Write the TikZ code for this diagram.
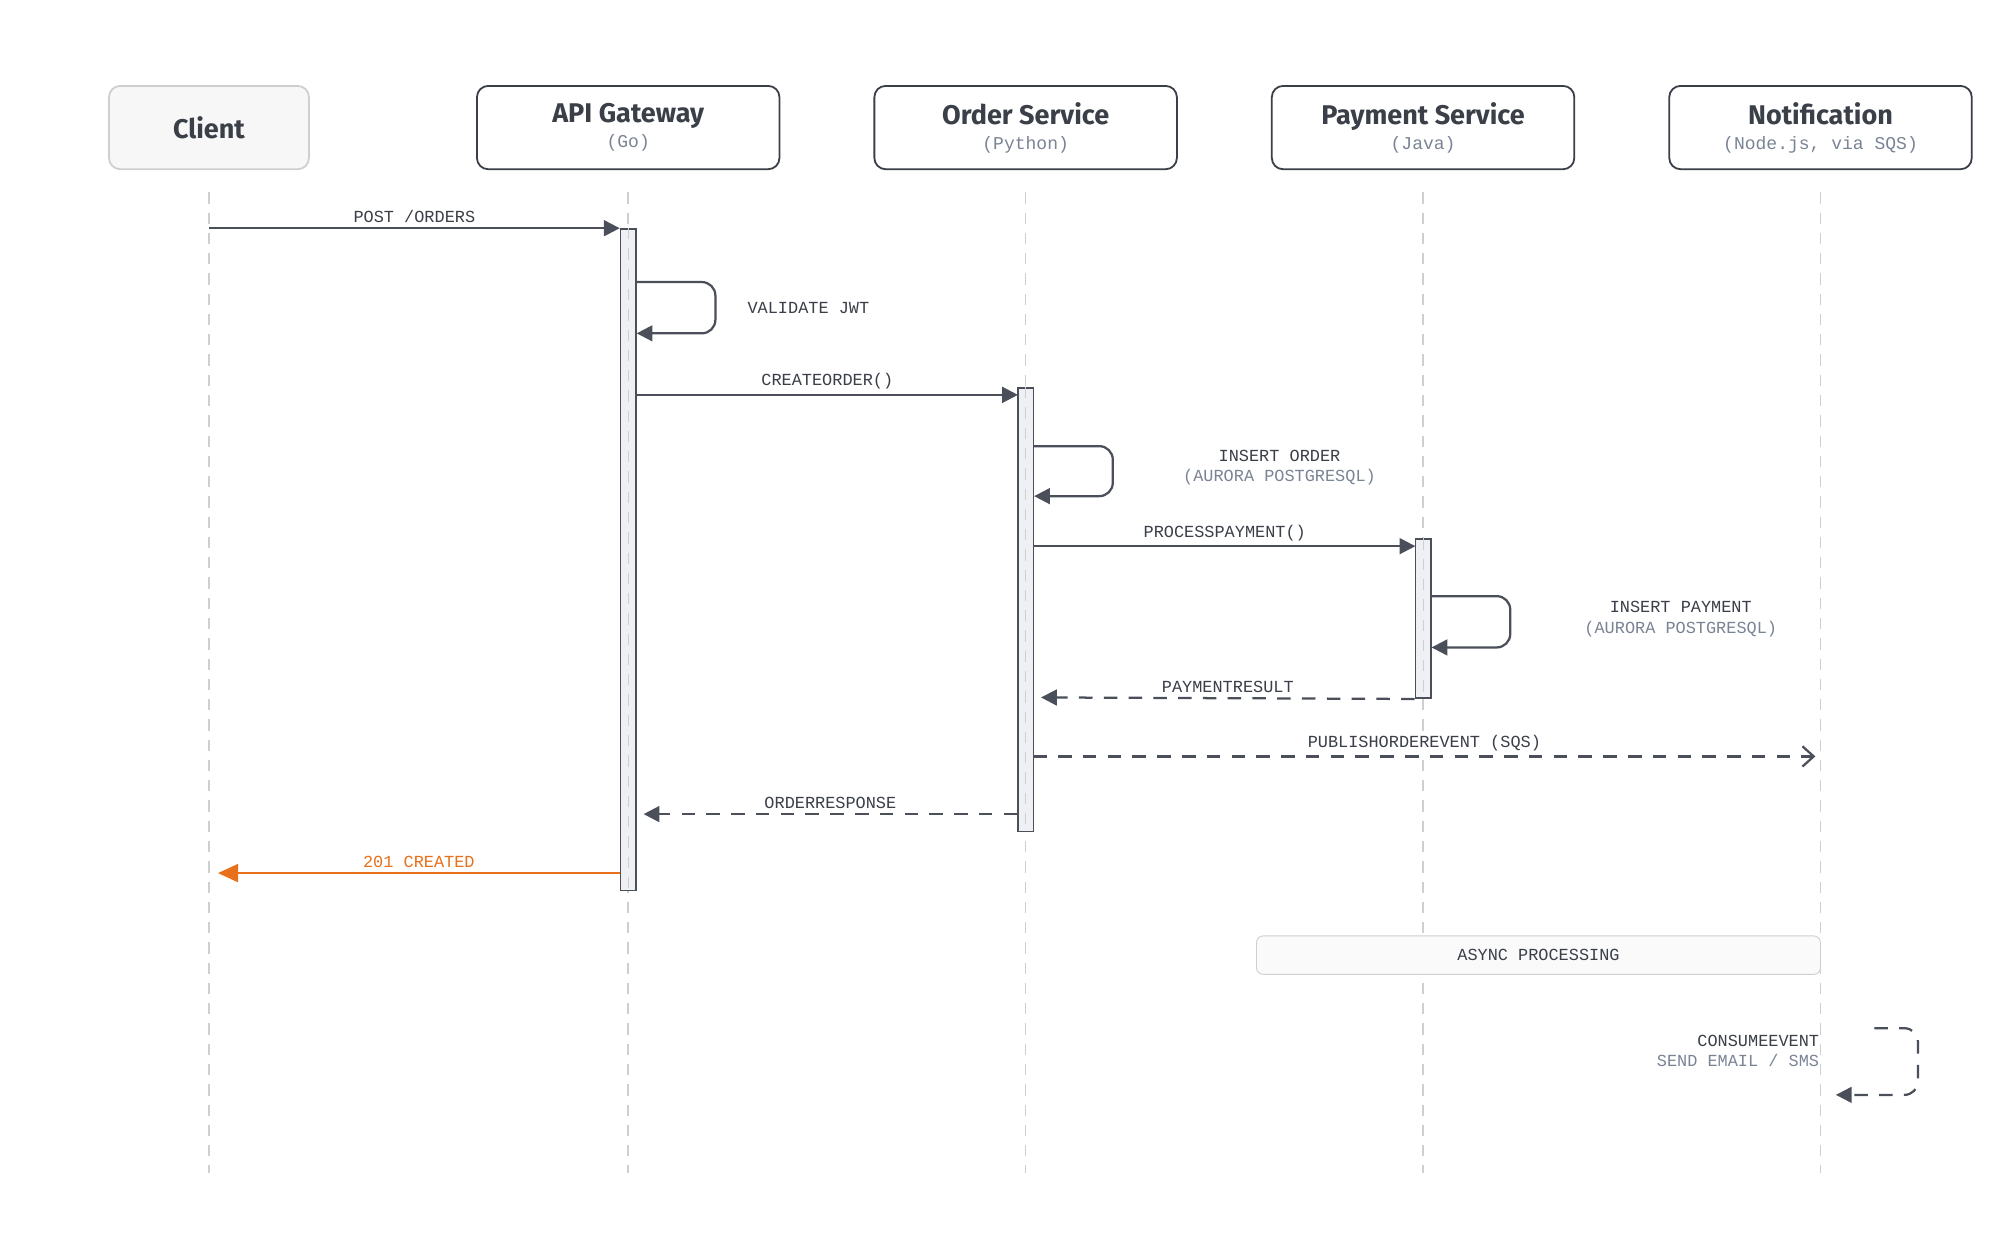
\documentclass[tikz,border=0pt]{standalone}
\usepackage{fontspec}
\setmainfont{Fira Sans}
\newfontfamily\monofont{Liberation Mono}
\usetikzlibrary{arrows.meta,positioning}

\definecolor{ink}{HTML}{4A4F59}
\definecolor{txt}{HTML}{3A3F48}
\definecolor{subtxt}{HTML}{7A8494}
\definecolor{lane}{HTML}{CFCFCF}
\definecolor{actfill}{HTML}{EEF0F4}
\definecolor{created}{HTML}{E8701A}

\tikzset{
	head/.style={draw=txt, thick, rounded corners=5pt, minimum width=4.72cm,
		minimum height=1.3cm, fill=white, align=center, text=txt},
	lifeline/.style={lane, dashed, dash pattern=on 5pt off 4pt, line width=0.7pt},
	act/.style={draw=ink, fill=actfill, line width=0.7pt, minimum width=0.24cm,
		inner sep=0pt, anchor=north},
	msg/.style={ink, line width=1pt, -{Triangle[length=7pt,width=7pt]}},
	ret/.style={msg, dash pattern=on 6pt off 5pt},
	lbl/.style={font=\monofont\fontsize{7.5}{9}\selectfont, text=txt, fill=white,
		inner sep=1pt, align=center},
	sub/.style={font=\monofont\fontsize{7.5}{9}\selectfont, text=subtxt}
}

\begin{document}
\begin{tikzpicture}[x=0.02cm,y=-0.02cm]

	\useasboundingbox (0,0) rectangle (1560,977);

	% Participants
	\node[head, draw=lane, fill=black!3, minimum width=3.12cm,
	font=\fontsize{12}{14}\selectfont\bfseries] (client) at (163,99.5) {Client};
	\node[head] (gw) at (490,99.5) {{\fontsize{12}{14}\selectfont\bfseries API Gateway}\\[-1pt]\textcolor{subtxt}{\monofont\fontsize{8}{10}\selectfont(Go)}};
	\node[head] (order) at (800,99.5) {{\fontsize{12}{14}\selectfont\bfseries Order Service}\\[-1pt]\textcolor{subtxt}{\monofont\fontsize{8}{10}\selectfont(Python)}};
	\node[head] (pay) at (1110,99.5) {{\fontsize{12}{14}\selectfont\bfseries Payment Service}\\[-1pt]\textcolor{subtxt}{\monofont\fontsize{8}{10}\selectfont(Java)}};
	\node[head] (notif) at (1420,99.5) {{\fontsize{12}{14}\selectfont\bfseries Notification}\\[-1pt]\textcolor{subtxt}{\monofont\fontsize{8}{10}\selectfont(Node.js, via SQS)}};

	% Lifelines
	\foreach \p/\x in {client/163,gw/490,order/800,pay/1110,notif/1420}{
		\coordinate (\p-top) at (\x,150);
		\coordinate (\p-bot) at (\x,915);
		\draw[lifeline] (\p-top) -- (\p-bot);
	}

	% Async processing bar
	\node[draw=lane, fill=black!2, rounded corners=3pt, minimum width=8.8cm,
	minimum height=0.6cm, font=\monofont\fontsize{7.5}{9}\selectfont, text=txt]
	(async) at (1200,745) {ASYNC PROCESSING};

	% Activations
	\node[act, minimum height=10.32cm] (gwact) at (490,178) {};
	\node[act, minimum height=6.92cm] (ordact) at (800,302) {};
	\node[act, minimum height=2.48cm] (payact) at (1110,420) {};
	\draw[lane, dashed, dash pattern=on 5pt off 4pt, line width=0.5pt]
	(gwact.north) -- (gwact.south) (ordact.north) -- (ordact.south) (payact.north) -- (payact.south);

	% Points on the lines
	\coordinate (c1) at (163,178);
	\coordinate (c2) at (170,681);
	\coordinate (o1) at (794,308);
	\coordinate (o2) at (812,544);
	\coordinate (o3) at (806,590);
	\coordinate (g1) at (502,635);
	\coordinate (n1) at (1416,590);
	\coordinate (p1) at (1104,426);

	% Messages
	\draw[msg] (c1) -- (gwact.north west |- c1)
	node[lbl, midway, above=1pt] {POST /ORDERS};
	\draw[msg, rounded corners=6pt] (gwact.east |- 0,220) -- (558,220) -- (558,260)
	-- (gwact.east |- 0,260);
	\node[lbl, anchor=west] (jwt) at (581,240) {VALIDATE JWT};

	\draw[msg] (gwact.east |- o1) -- (o1)
	node[lbl, midway, above=1pt] {CREATEORDER()};
	\draw[msg, rounded corners=6pt] (ordact.east |- 0,348) -- (868,348) -- (868,387)
	-- (ordact.east |- 0,387);
	\node[lbl] (ins1) at (998,365) {INSERT ORDER\\\textcolor{subtxt}{(AURORA POSTGRESQL)}};

	\draw[msg] (ordact.east |- p1) -- (p1)
	node[lbl, midway, above=1pt] {PROCESSPAYMENT()};
	\draw[msg, rounded corners=6pt] (payact.east |- 0,465) -- (1178,465) -- (1178,505)
	-- (payact.east |- 0,505);
	\node[lbl] (ins2) at (1311,483) {INSERT PAYMENT\\\textcolor{subtxt}{(AURORA POSTGRESQL)}};

	\draw[ret] (payact.south west) -- (o2)
	node[lbl, midway, above=1pt] {PAYMENTRESULT};
	\draw[ret, -{Straight Barb[length=5pt,width=9pt]}] (o3) -- (n1)
	node[lbl, midway, above=1pt] {PUBLISHORDEREVENT (SQS)};
	\draw[ret] (ordact.west |- g1) -- (g1)
	node[lbl, midway, above=1pt] {ORDERRESPONSE};
	\draw[msg, created, -{Triangle[length=9pt,width=8pt]}] (gwact.west |- c2) -- (c2)
	node[lbl, midway, above=1pt, text=created] {201 CREATED};

	% Consume loop
	\draw[ret, rounded corners=6pt] (1462,802) -- (1496,802) -- (1496,854) -- (1432,854);
	\node[lbl, align=right, anchor=east, fill=none] (consume) at (1421,820)
	{CONSUMEEVENT\\\textcolor{subtxt}{SEND EMAIL / SMS}};

\end{tikzpicture}
\end{document}
